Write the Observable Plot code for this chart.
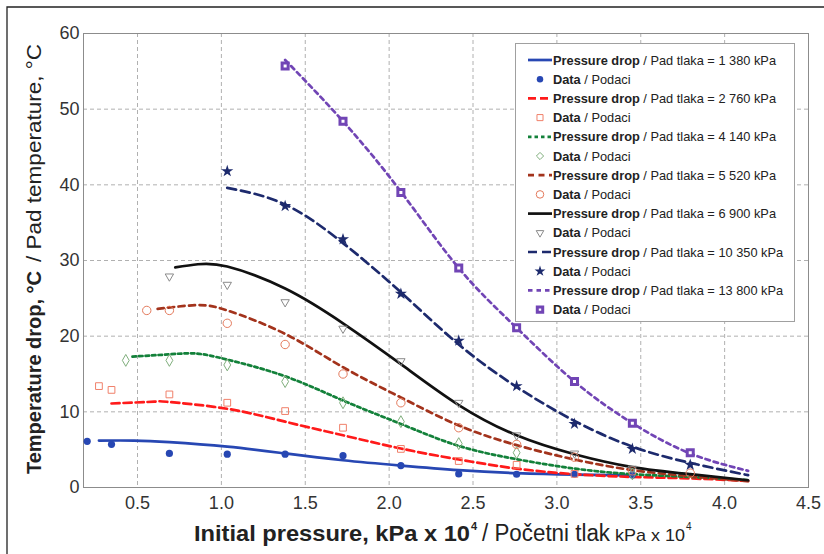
<!DOCTYPE html>
<html><head><meta charset="utf-8">
<script src="https://cdn.jsdelivr.net/npm/d3@7"></script>
<script src="https://cdn.jsdelivr.net/npm/@observablehq/plot@0.6"></script>
<style>body{margin:0;background:#fff}</style>
</head><body><div id="chart"></div>
<script>
// ---- data (x: initial pressure, kPa x 10^4 ; y: temperature drop, °C) ----
const pressureDrops = ["1 380", "2 760", "4 140", "5 520", "6 900", "10 350", "13 800"];

const fitX_1380 = [0.27, 0.48, 0.69, 1.035, 1.38, 1.725, 2.07, 2.415, 2.76, 3.105, 3.45];
const fitY_1380 = [6.2, 6.2, 6.0, 5.4, 4.5, 3.6, 2.9, 2.3, 1.9, 1.7, 1.6];
const datX_1380 = [0.2, 0.345, 0.69, 1.035, 1.38, 1.725, 2.07, 2.415, 2.76, 3.105, 3.45];
const datY_1380 = [6.1, 5.7, 4.5, 4.4, 4.4, 4.2, 2.9, 1.8, 1.75, 1.75, 1.65];

const fitX_2760 = [0.345, 0.6, 0.69, 1.035, 1.38, 1.725, 2.07, 2.415, 2.76, 3.105, 3.45, 3.795, 4.14];
const fitY_2760 = [11.1, 11.35, 11.3, 10.4, 8.7, 6.9, 5.15, 3.7, 2.5, 1.76, 1.4, 1.2, 0.87];
const datX_2760 = [0.27, 0.345, 0.69, 1.035, 1.38, 1.725, 2.07, 2.415, 2.76, 3.105];
const datY_2760 = [13.4, 12.9, 12.3, 11.2, 10.1, 7.9, 5.1, 3.5, 3.0, 1.8];

const fitX_4140 = [0.47, 0.69, 0.85, 1.035, 1.38, 1.725, 2.07, 2.415, 2.76, 3.105, 3.45, 3.795, 4.14];
const fitY_4140 = [17.3, 17.6, 17.7, 16.9, 14.7, 11.5, 8.4, 5.5, 3.74, 2.5, 1.76, 1.4, 0.96];
const datX_4140 = [0.43, 0.69, 1.035, 1.38, 1.725, 2.07, 2.415, 2.76, 3.45];
const datY_4140 = [16.8, 16.8, 16.2, 14.0, 11.2, 8.7, 5.8, 4.6, 1.8];

const fitX_5520 = [0.62, 0.85, 1.035, 1.38, 1.725, 2.07, 2.415, 2.76, 3.105, 3.45, 3.795, 4.14];
const fitY_5520 = [23.6, 24.1, 23.4, 20.3, 15.9, 11.9, 8.2, 5.6, 3.7, 2.3, 1.5, 0.83];
const datX_5520 = [0.555, 0.69, 1.035, 1.38, 1.725, 2.07, 2.415, 2.76, 3.105, 3.45, 3.795];
const datY_5520 = [23.4, 23.4, 21.7, 18.9, 15.0, 11.2, 7.9, 5.7, 4.0, 2.2, 1.9];

const fitX_6900 = [0.725, 0.86, 1.035, 1.38, 1.725, 2.07, 2.415, 2.76, 3.105, 3.45, 3.795, 4.14];
const fitY_6900 = [29.1, 29.5, 29.2, 26.3, 21.7, 16.3, 10.9, 6.9, 4.4, 2.7, 1.76, 0.96];
const datX_6900 = [0.69, 1.035, 1.38, 1.725, 2.07, 2.415, 2.76, 3.105, 3.45];
const datY_6900 = [27.9, 26.8, 24.5, 21.0, 16.7, 11.2, 6.9, 4.5, 2.5];

const fitX_10350 = [1.035, 1.38, 1.725, 2.07, 2.415, 2.76, 3.105, 3.45, 3.795, 4.14];
const fitY_10350 = [39.6, 37.4, 32.3, 25.8, 18.9, 13.3, 8.8, 5.4, 3.25, 1.63];
const datX_10350 = [1.035, 1.38, 1.725, 2.07, 2.415, 2.76, 3.105, 3.45, 3.795];
const datY_10350 = [41.8, 37.2, 32.8, 25.6, 19.4, 13.4, 8.4, 5.1, 3.0];

const fitX_13800 = [1.38, 1.725, 2.07, 2.415, 2.76, 3.105, 3.45, 3.795, 4.14];
const fitY_13800 = [56.5, 48.4, 39.1, 29.0, 21.1, 14.0, 8.5, 4.5, 2.2];
const datX_13800 = [1.38, 1.725, 2.07, 2.415, 2.76, 3.105, 3.45, 3.795];
const datY_13800 = [55.7, 48.4, 39.0, 29.0, 21.1, 14.0, 8.5, 4.6];

const xTicks = [0.5, 1, 1.5, 2, 2.5, 3, 3.5, 4, 4.5];
const yTicks = [0, 10, 20, 30, 40, 50, 60];

// ---- styles ----
const series = [
  {fx: fitX_1380, fy: fitY_1380, dx: datX_1380, dy: datY_1380, line: "#2747b3", dash: null, sym: "circle", rot: 0, fill: "#2747b3", stroke: "none", r: 3.6, sw: 1},
  {fx: fitX_2760, fy: fitY_2760, dx: datX_2760, dy: datY_2760, line: "#ff1a1a", dash: "8,4", sym: "square", rot: 0, fill: "none", stroke: "#f0806a", r: 3.8, sw: 1},
  {fx: fitX_4140, fy: fitY_4140, dx: datX_4140, dy: datY_4140, line: "#13813a", dash: "3.5,3", sym: "diamond", rot: 0, fill: "none", stroke: "#7fae7c", r: 3.6, sw: 1},
  {fx: fitX_5520, fy: fitY_5520, dx: datX_5520, dy: datY_5520, line: "#a3331c", dash: "6,4.5", sym: "circle", rot: 0, fill: "none", stroke: "#e47a5c", r: 4.2, sw: 1},
  {fx: fitX_6900, fy: fitY_6900, dx: datX_6900, dy: datY_6900, line: "#111111", dash: null, sym: "triangle2", rot: 180, fill: "none", stroke: "#8a8a8a", r: 4, sw: 1},
  {fx: fitX_10350, fy: fitY_10350, dx: datX_10350, dy: datY_10350, line: "#1d2a6d", dash: "9,5", sym: "star", rot: 0, fill: "#1d2a6d", stroke: "none", r: 3.8, sw: 1},
  {fx: fitX_13800, fy: fitY_13800, dx: datX_13800, dy: datY_13800, line: "#7145b5", dash: "4.5,4", sym: "square", rot: 0, fill: "#ffffff", stroke: "#7145b5", r: 3.4, sw: 3}
];

const sans = "'Liberation Sans', Arial, sans-serif";

const marks = [
  Plot.gridX(xTicks.filter(d => d < 4.5), {stroke: "#b0b0b0", strokeOpacity: 1, strokeDasharray: "4,3"}),
  Plot.gridY(yTicks.filter(d => d > 0 && d < 60), {stroke: "#b0b0b0", strokeOpacity: 1, strokeDasharray: "4,3"}),
  Plot.frame({stroke: "#8c8c8c"}),
  Plot.axisX(xTicks, {tickSize: 0, tickPadding: 9, fontSize: 18, fontFamily: sans, fill: "#333", label: null}),
  Plot.axisY(yTicks, {tickSize: 0, tickPadding: 4, fontSize: 18, fontFamily: sans, fill: "#333", label: null})
];
for (const s of series) {
  marks.push(Plot.line(s.fx.map((x, i) => ({x, y: s.fy[i]})), {
    x: "x", y: "y", stroke: s.line, strokeWidth: 2.7, strokeDasharray: s.dash, curve: "natural"
  }));
}
for (const s of series) {
  marks.push(Plot.dot(s.dx.map((x, i) => ({x, y: s.dy[i]})), {
    x: "x", y: "y", symbol: s.sym, rotate: s.rot, r: s.r, fill: s.fill, stroke: s.stroke, strokeWidth: s.sw
  }));
}

const svg = Plot.plot({
  width: 824, height: 554,
  marginLeft: 83, marginRight: 16, marginTop: 33, marginBottom: 67,
  x: {domain: [0.178, 4.5]},
  y: {domain: [0, 60]},
  style: {background: "#fff", overflow: "visible"},
  marks
});
document.getElementById("chart").appendChild(svg);

const root = d3.select(svg);
// outer frame
root.append("path").attr("d", "M7,560 V7 H830").attr("fill", "none").attr("stroke", "#222").attr("stroke-width", 1.3);

function txt(g, x, y, s, size, bold, len) {
  const t = g.append("text").attr("x", x).attr("y", y).attr("text-anchor", "start")
    .attr("font-family", sans).attr("font-size", size).attr("fill", "#222").text(s);
  if (bold) t.attr("font-weight", "bold");
  if (len) t.attr("textLength", len).attr("lengthAdjust", "spacingAndGlyphs");
  return t;
}

// x axis title
txt(root, 194, 541, "Initial pressure, kPa x 10", 22, true, 276);
txt(root, 471, 530, "4", 11, true);
txt(root, 482, 541, "/ Početni tlak", 23, false, 128);
txt(root, 615, 541, "kPa x 10", 17, false, 70);
txt(root, 686, 530, "4", 10, false);

// y axis title
const g1 = root.append("g").attr("transform", "translate(41,474) rotate(-90)");
txt(g1, 0, 0, "Temperature drop, °C", 20, true, 203);
const g2 = root.append("g").attr("transform", "translate(41,262) rotate(-90)");
txt(g2, 0, 0, "/ Pad temperature, °C", 20, false, 218);

// legend
const lg = root.append("g");
lg.append("rect").attr("x", 515.5).attr("y", 43.5).attr("width", 279).attr("height", 278)
  .attr("fill", "#fff").attr("stroke", "#a0a0a0");
series.forEach((s, i) => {
  const y1 = 60 + (2 * i) * 19.2, y2 = y1 + 19.2;
  lg.append("line").attr("x1", 528).attr("x2", 552).attr("y1", y1).attr("y2", y1)
    .attr("stroke", s.line).attr("stroke-width", 2.7).attr("stroke-dasharray", s.dash);
  const t1 = txt(lg, 553, y1 + 4.5, "", 12.8, false);
  t1.append("tspan").attr("font-weight", "bold").text("Pressure drop");
  t1.append("tspan").text(" / Pad tlaka = " + pressureDrops[i] + " kPa");
  const t2 = txt(lg, 553, y2 + 4.5, "", 12.8, false);
  t2.append("tspan").attr("font-weight", "bold").text("Data");
  t2.append("tspan").text(" / Podaci");
});
const symMap = {circle: d3.symbolCircle, square: d3.symbolSquare, diamond: d3.symbolDiamond2, triangle2: d3.symbolTriangle2, star: d3.symbolStar};
series.forEach((s, i) => {
  const y2 = 60 + (2 * i + 1) * 19.2;
  const r = s.r * 0.9;
  lg.append("path").attr("transform", `translate(540,${y2}) rotate(${s.rot})`)
    .attr("d", d3.symbol(symMap[s.sym], r * r * Math.PI)())
    .attr("fill", s.fill).attr("stroke", s.stroke).attr("stroke-width", s.sw);
});
</script></body></html>
